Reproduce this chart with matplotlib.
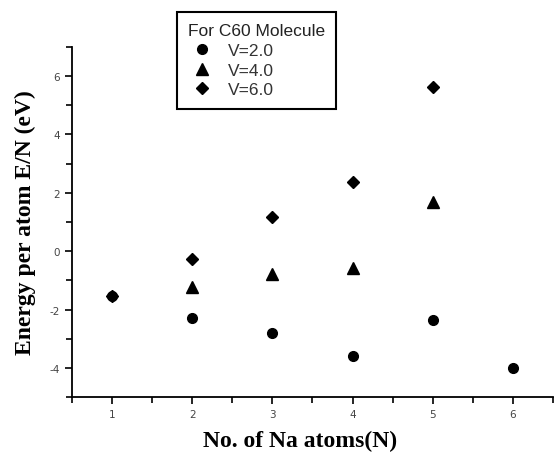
import matplotlib
matplotlib.use("Agg")
import matplotlib.pyplot as plt
from matplotlib.ticker import MultipleLocator

plt.rcParams["axes.unicode_minus"] = False

# number of Na atoms
n_v2 = [1, 2, 3, 4, 5, 6]
e_v2 = [-1.55, -2.29, -2.79, -3.60, -2.35, -4.01]
n_v4 = [2, 3, 4, 5]
e_v4 = [-1.24, -0.78, -0.59, 1.68]
n_v6 = [1, 2, 3, 4, 5]
e_v6 = [-1.55, -0.28, 1.17, 2.37, 5.62]
labels = ["V=2.0", "V=4.0", "V=6.0"]

fig = plt.figure(figsize=(5.54, 4.56), dpi=100)
ax = fig.add_axes([0.13, 0.127, 0.868, 0.768])

ax.plot(n_v2, e_v2, "o", color="black", markersize=7, label=labels[0])
ax.plot(n_v4, e_v4, "^", color="black", markersize=8, label=labels[1])
ax.plot(n_v6, e_v6, "D", color="black", markersize=6.5, label=labels[2])

ax.set_xlim(0.5, 6.5)
ax.set_ylim(-5, 7)
ax.xaxis.set_major_locator(MultipleLocator(1))
ax.xaxis.set_minor_locator(MultipleLocator(0.5))
ax.yaxis.set_minor_locator(MultipleLocator(1))
ax.set_yticks([-4, -2, 0, 2, 4, 6])

for s in ["top", "right"]:
    ax.spines[s].set_visible(False)
for s in ["left", "bottom"]:
    ax.spines[s].set_linewidth(1.3)
ax.tick_params(which="major", direction="out", length=5, width=1.2,
               labelsize=7.5, labelcolor="#444444")
ax.tick_params(which="minor", direction="out", length=4, width=1.2)

serif = {"family": "Liberation Serif", "weight": "bold", "size": 17}
ax.set_xlabel("No. of Na atoms(N)", fontdict=serif)
ax.xaxis.set_label_coords(0.475, -0.095)
ax.set_ylabel("Energy per atom E/N (eV)", fontdict=serif, labelpad=10)

leg = ax.legend(title="For C60 Molecule", loc="upper left",
                bbox_to_anchor=(177 / 554, 1 - 109 / 456, 159 / 554, 96 / 456),
                bbox_transform=fig.transFigure, mode="expand",
                fancybox=False, framealpha=1, edgecolor="black",
                prop={"family": "Liberation Sans", "size": 12.5},
                title_fontproperties={"family": "Liberation Sans", "size": 12.5},
                alignment="left", handletextpad=0.7, borderpad=0.65,
                labelspacing=0.26, borderaxespad=0, handlelength=1.6)
leg.get_frame().set_linewidth(1.5)
for t in leg.get_texts():
    t.set_color("#333333")
leg.get_title().set_color("#222222")

fig.savefig("out.png", dpi=100)
